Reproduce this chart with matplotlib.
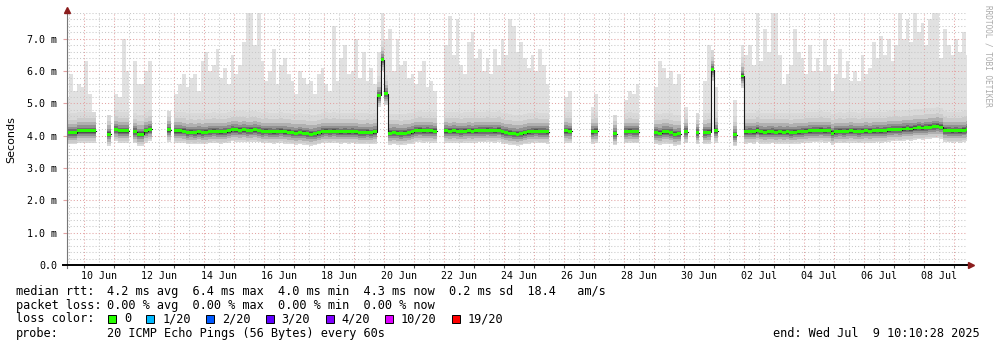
import datetime as dt
import numpy as np
import matplotlib
matplotlib.use('Agg')
import matplotlib.pyplot as plt
import matplotlib.dates as mdates
from matplotlib.patches import Rectangle
from matplotlib.ticker import MultipleLocator, FuncFormatter, NullFormatter

nan = float('nan')

# 3-hour slots starting 9 Jun 2025 09:00, values in ms (nan = no data)
median_ms = [
    4.10, 4.10, 4.10, 4.15, 4.15, 4.15, 4.15, 4.15,
    nan, nan, nan, 4.05, nan, 4.20, 4.15, 4.15,
    4.15, nan, 4.13, 4.05, 4.05, 4.15, 4.20, nan,
    nan, nan, nan, 4.18, nan, 4.15, 4.15, 4.14,
    4.10, 4.11, 4.10, 4.12, 4.10, 4.11, 4.13, 4.14,
    4.13, 4.12, 4.13, 4.15, 4.19, 4.18, 4.17, 4.18,
    4.16, 4.17, 4.18, 4.16, 4.13, 4.14, 4.13, 4.12,
    4.13, 4.14, 4.12, 4.11, 4.09, 4.08, 4.10, 4.08,
    4.07, 4.05, 4.06, 4.09, 4.13, 4.14, 4.13, 4.14,
    4.13, 4.12, 4.13, 4.12, 4.13, 4.12, 4.10, 4.10,
    4.11, 4.09, 4.12, 5.25, 6.35, 5.30, 4.08, 4.09,
    4.08, 4.07, 4.08, 4.10, 4.12, 4.16, 4.17, 4.15,
    4.16, 4.15, 4.14, nan, nan, 4.15, 4.14, 4.15,
    4.14, 4.13, 4.14, 4.15, 4.14, 4.15, 4.16, 4.16,
    4.17, 4.16, 4.15, 4.17, 4.12, 4.10, 4.08, 4.06,
    4.05, 4.06, 4.09, 4.12, 4.13, 4.14, 4.13, 4.13,
    4.12, nan, nan, nan, nan, 4.15, 4.14, nan,
    nan, nan, nan, nan, 4.12, 4.14, nan, nan,
    nan, nan, 4.06, nan, nan, 4.13, 4.14, 4.13,
    4.13, nan, nan, nan, nan, 4.10, 4.08, 4.12,
    4.12, 4.10, 4.05, 4.06, nan, 4.13, nan, nan,
    4.10, nan, 4.10, 4.11, 6.05, 4.15, nan, nan,
    nan, nan, 4.03, nan, 5.85, 4.12, 4.13, 4.12,
    4.17, 4.12, 4.11, 4.12, 4.13, 4.11, 4.12, 4.11,
    4.12, 4.10, 4.11, 4.12, 4.13, 4.14, 4.15, 4.16,
    4.16, 4.17, 4.15, 4.16, 4.08, 4.13, 4.14, 4.13,
    4.14, 4.15, 4.14, 4.13, 4.14, 4.15, 4.14, 4.15,
    4.16, 4.15, 4.16, 4.18, 4.19, 4.20, 4.19, 4.21,
    4.22, 4.21, 4.24, 4.25, 4.24, 4.26, 4.27, 4.28,
    4.30, 4.27, 4.17, 4.16, 4.15, 4.16, 4.15, 4.17,
    4.20,
]

max_ms = [
    5.2, 5.9, 5.4, 5.6, 5.5, 6.3, 5.3, 4.6,
    nan, nan, nan, 4.55, nan, 5.3, 5.2, 7.0,
    6.0, nan, 6.3, 5.6, 5.6, 6.0, 6.3, nan,
    nan, nan, nan, 4.6, nan, 5.3, 5.6, 5.9,
    5.5, 5.8, 5.9, 5.4, 6.3, 6.6, 6.0, 6.2,
    6.7, 5.8, 6.1, 5.6, 6.5, 5.9, 6.2, 6.9,
    7.8, 7.8, 6.8, 7.8, 6.3, 5.7, 6.0, 6.7,
    5.6, 6.2, 6.4, 5.9, 5.7, 5.3, 6.0, 5.8,
    5.6, 5.7, 5.3, 5.9, 6.1, 5.6, 5.4, 7.4,
    5.7, 6.4, 6.8, 5.9, 6.0, 7.0, 5.8, 6.6,
    5.7, 6.1, 5.6, 6.6, 7.8, 7.0, 7.3, 6.0,
    7.0, 6.2, 6.3, 5.8, 5.9, 5.6, 6.0, 6.3,
    5.5, 5.7, 5.4, nan, nan, 6.8, 7.7, 6.5,
    7.6, 6.2, 5.9, 6.9, 7.2, 6.4, 6.7, 6.0,
    6.4, 5.9, 6.7, 6.2, 7.0, 6.5, 7.6, 7.4,
    6.6, 6.9, 6.4, 6.1, 6.5, 6.0, 6.7, 6.2,
    5.6, nan, nan, nan, nan, 5.2, 5.4, nan,
    nan, nan, nan, nan, 4.9, 5.3, nan, nan,
    nan, nan, 4.5, nan, nan, 5.1, 5.4, 5.3,
    5.6, nan, nan, nan, nan, 5.5, 6.3, 6.1,
    5.8, 6.0, 5.6, 5.9, nan, 4.9, nan, nan,
    4.5, nan, 5.7, 6.8, 6.5, 5.5, nan, nan,
    nan, nan, 5.1, nan, 6.8, 6.5, 6.8, 6.2,
    7.8, 6.3, 7.3, 6.6, 7.8, 7.8, 6.5, 5.6,
    5.9, 6.2, 7.3, 6.6, 6.4, 5.9, 6.8, 6.0,
    6.4, 6.0, 7.0, 6.2, 5.4, 5.9, 6.7, 5.8,
    6.3, 5.7, 6.0, 5.7, 6.5, 5.9, 6.1, 6.9,
    6.4, 7.1, 6.5, 7.0, 6.3, 6.8, 7.8, 7.0,
    7.6, 6.9, 7.8, 7.2, 7.5, 6.8, 7.6, 7.8,
    7.8, 6.4, 7.3, 6.8, 6.5, 7.0, 6.6, 7.2,
    6.5,
]

loss_labels = ['0', '1/20', '2/20', '3/20', '4/20', '10/20', '19/20']
loss_colors = ['#26ff00', '#00b8ff', '#0059ff', '#5e00ff', '#7e00ff', '#dd00ff', '#ff0000']

start = dt.datetime(2025, 6, 9, 10, 10, 28)
end = dt.datetime(2025, 7, 9, 10, 10, 28)
slot0 = dt.datetime(2025, 6, 9, 9, 0)

MONO = 'DejaVu Sans Mono'
W, H = 997, 347

fig = plt.figure(figsize=(W / 100, H / 100), dpi=100)
fig.patch.set_facecolor('white')
ax = fig.add_axes([67 / W, 82 / H, 900 / W, 252 / H])
ax.set_facecolor('white')

x = mdates.date2num([slot0 + i * dt.timedelta(hours=3) for i in range(len(median_ms))])
wd = 3 / 24
med = np.array(median_ms)
peak = np.array(max_ms)
ok = ~np.isnan(med)
xs, ms, ps = x[ok], med[ok], peak[ok]

# outer smoke up to the slowest ping, slightly darker haze near the median
ax.bar(xs, ps - (ms - 0.36), bottom=ms - 0.36, width=wd, align='edge',
       color='#e1e1e1', lw=0, antialiased=False, zorder=1)
ax.bar(xs, 0.95, bottom=ms - 0.36, width=wd, align='edge',
       color='#d9d9d9', lw=0, antialiased=False, zorder=1)

# denser smoke around the median (below, above, colour)
bands = [(0.31, 0.40, '#cbcbcb'), (0.23, 0.27, '#b0b0b0'), (0.16, 0.17, '#919191'),
         (0.10, 0.10, '#707070'), (0.05, 0.055, '#525252')]
for lo, hi, col in bands:
    ax.bar(xs, lo + hi, bottom=ms - lo, width=wd, align='edge',
           color=col, lw=0, antialiased=False, zorder=3)

ax.step(np.append(x, x[-1] + wd), np.append(med, med[-1]), where='post',
        color='#1a1a1a', lw=0.8, zorder=4)
ax.bar(xs, 0.09, bottom=ms - 0.045, width=wd, align='edge',
       color=loss_colors[0], lw=0, antialiased=False, zorder=5)

ax.set_xlim(mdates.date2num(start), mdates.date2num(end))
ax.set_ylim(0, 7.8)

ax.xaxis.set_major_locator(mdates.DayLocator())
ax.xaxis.set_minor_locator(mdates.HourLocator(byhour=[12]))
ax.xaxis.set_major_formatter(NullFormatter())
ref_day = dt.date(2025, 6, 10)


def day_label(v, pos):
    d = mdates.num2date(v)
    return d.strftime('%d %b') if (d.date() - ref_day).days % 2 == 0 else ''


ax.xaxis.set_minor_formatter(FuncFormatter(day_label))
ax.yaxis.set_major_locator(MultipleLocator(1.0))
ax.yaxis.set_minor_locator(MultipleLocator(0.2))
ax.yaxis.set_major_formatter(FuncFormatter(lambda v, p: '0.0' if v == 0 else f'{v:.1f} m'))

ax.tick_params(axis='x', which='minor', length=0, pad=4.2, labelsize=7.2)
ax.tick_params(axis='x', which='major', length=2.5, width=0.8, color='#444444')
ax.tick_params(axis='y', which='major', length=3, width=0.8, color='#e3a3a3', pad=4, labelsize=7.2)
ax.tick_params(axis='y', which='minor', length=0)
for lab in ax.get_xticklabels(minor=True) + ax.get_yticklabels():
    lab.set_fontfamily(MONO)

ax.set_axisbelow(False)
ax.grid(which='major', color='#e3a3a3', ls=(0, (1, 2)), lw=0.75)
ax.grid(which='minor', color='#c8c8c8', ls=(0, (1, 2)), lw=0.75)

for s in ['top', 'right', 'bottom', 'left']:
    ax.spines[s].set_visible(False)
ax.plot([0, 0], [-3 / 252, 1 + 2 / 252], color='#777777', lw=0.8,
        transform=ax.transAxes, clip_on=False, zorder=6)
ax.plot([-4 / 900, 1 + 1 / 900], [0, 0], color='black', lw=1.4,
        transform=ax.transAxes, clip_on=False, zorder=6)
ax.plot([0], [1 + 3.5 / 252], marker='^', ms=4, color='#8b1c1c', mec='#8b1c1c',
        transform=ax.transAxes, clip_on=False, zorder=7)
ax.plot([1 + 3.5 / 900], [0], marker='>', ms=4, color='#8b1c1c', mec='#8b1c1c',
        transform=ax.transAxes, clip_on=False, zorder=7)

fig.text(11 / W, 1 - 140 / H, 'Seconds', rotation=90, ha='center', va='center',
         fontsize=8, family='DejaVu Sans')
fig.text(988 / W, 1 - 5 / H, 'RRDTOOL / TOBI OETIKER', rotation=-90, ha='center', va='top',
         fontsize=5.6, family=MONO, color='#aaaaaa')

fs = 8.6
cw = 7.17
rows = [291.7, 305.0, 319.0, 333.3]
fig.text(16 / W, 1 - rows[0] / H, 'median rtt:', fontsize=fs, family=MONO, va='center')
fig.text(107.3 / W, 1 - rows[0] / H,
         '4.2 ms avg  6.4 ms max  4.0 ms min  4.3 ms now  0.2 ms sd  18.4   am/s',
         fontsize=fs, family=MONO, va='center')
fig.text(16 / W, 1 - rows[1] / H, 'packet loss:', fontsize=fs, family=MONO, va='center')
fig.text(107.3 / W, 1 - rows[1] / H, '0.00 % avg  0.00 % max  0.00 % min  0.00 % now',
         fontsize=fs, family=MONO, va='center')
fig.text(16 / W, 1 - rows[2] / H, 'loss color:', fontsize=fs, family=MONO, va='center')
cur = 107.3
for lab, col in zip(loss_labels, loss_colors):
    fig.add_artist(Rectangle(((cur + 1) / W, 1 - (rows[2] + 4) / H), 8 / W, 8 / H,
                             facecolor=col, edgecolor='black', lw=0.7,
                             transform=fig.transFigure))
    fig.text((cur + 16.7) / W, 1 - rows[2] / H, lab, fontsize=fs, family=MONO, va='center')
    cur = cur + 16.7 + len(lab) * cw + 14.3
fig.text(16 / W, 1 - rows[3] / H, 'probe:', fontsize=fs, family=MONO, va='center')
fig.text(107.3 / W, 1 - rows[3] / H, '20 ICMP Echo Pings (56 Bytes) every 60s',
         fontsize=fs, family=MONO, va='center')
fig.text(980 / W, 1 - rows[3] / H, 'end: Wed Jul  9 10:10:28 2025', fontsize=fs,
         family=MONO, va='center', ha='right')

fig.savefig('out.png', dpi=100)
